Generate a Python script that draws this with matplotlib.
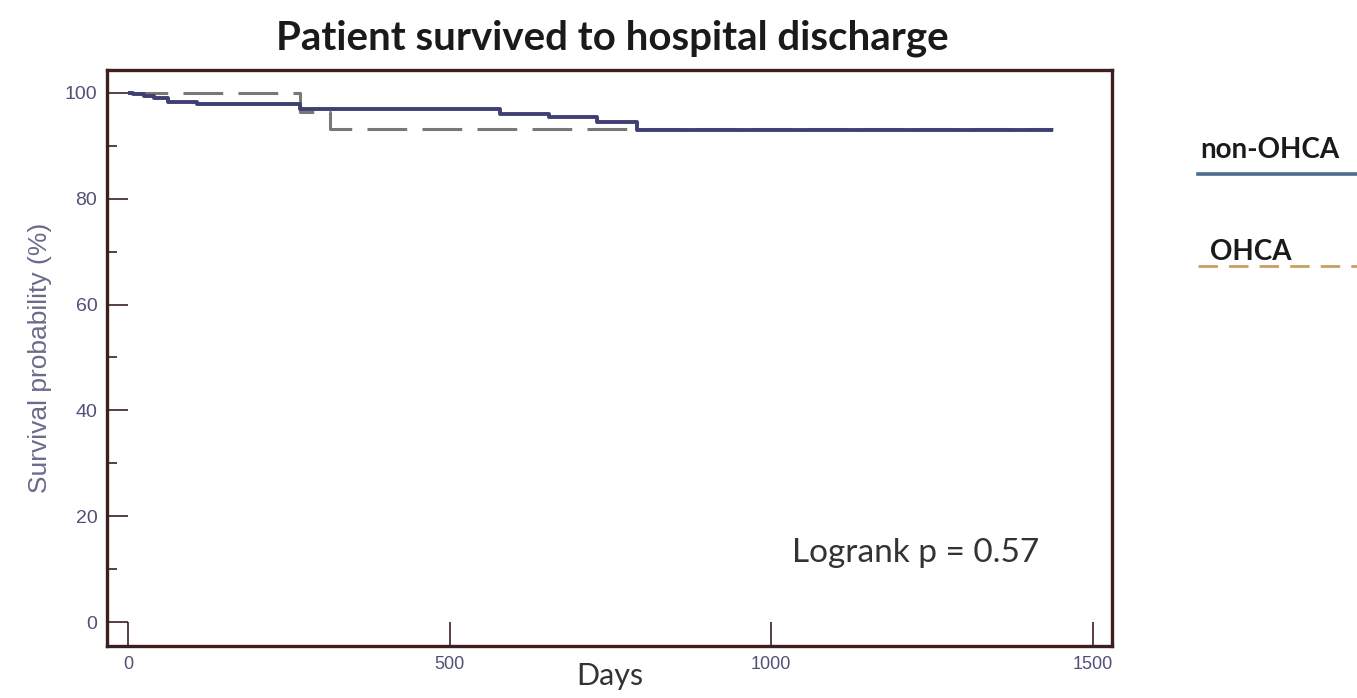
import numpy as np
import matplotlib
matplotlib.use("Agg")
import matplotlib.pyplot as plt
from matplotlib.lines import Line2D

# Kaplan-Meier step data (days, survival %)
non_ohca_days = [0, 8, 25, 40, 62, 108, 267, 578, 655, 729, 791, 1439]
non_ohca_surv = [100, 99.7, 99.3, 99.0, 98.3, 97.9, 96.9, 96.0, 95.4, 94.4, 93.0, 93.0]

ohca_days = [0, 267, 314, 1439]
ohca_surv = [100, 96.4, 93.1, 93.1]

x_ticks = [0, 500, 1000, 1500]
y_ticks = [0, 20, 40, 60, 80, 100]
y_minor = [10, 30, 50, 70, 90]

title = "Patient survived to hospital discharge"
logrank_text = "Logrank p = 0.57"

frame_col = "#3d1f1f"
tick_col = "#505078"
solid_col = "#3f3f75"
dash_col = "#7c7772"
calibri = ["Lato", "DejaVu Sans"]
arial = ["Liberation Sans Narrow", "Liberation Sans", "DejaVu Sans"]

fig = plt.figure(figsize=(13.57, 6.98), dpi=100)
ax = fig.add_axes([107 / 1357, 1 - 646 / 698, (1112 - 107) / 1357, (646 - 70) / 698])

ax.step(ohca_days, ohca_surv, where="post", color=dash_col, lw=2.2,
        dashes=(13, 5), zorder=2)
ax.step(non_ohca_days, non_ohca_surv, where="post", color=solid_col, lw=2.8,
        solid_capstyle="butt", zorder=3)

ax.set_xlim(-32.7, 1530)
ax.set_ylim(-4.5, 104.3)

for s in ax.spines.values():
    s.set_color(frame_col)
    s.set_linewidth(2.4)

ax.set_xticks(x_ticks)
ax.set_yticks(y_ticks)
ax.set_yticks(y_minor, minor=True)
ax.tick_params(axis="x", direction="in", length=17, width=1.2, color=frame_col,
               labelcolor=tick_col, labelsize=13, pad=7)
ax.tick_params(axis="y", which="major", direction="in", length=15, width=1.2,
               color=frame_col, labelcolor=tick_col, labelsize=14, pad=7)
ax.tick_params(axis="y", which="minor", direction="in", length=7, width=1.2,
               color=frame_col)
for lab in ax.get_xticklabels() + ax.get_yticklabels():
    lab.set_family(arial)

ax.set_xlabel("Days", family=calibri, fontsize=22, color="#333333", labelpad=-8)
ax.set_ylabel("Survival probability (%)", family=["Liberation Sans", "DejaVu Sans"],
              fontsize=19, color="#6a6a8c", labelpad=9)

ax.text(0.928, 0.161, logrank_text, transform=ax.transAxes, ha="right", va="center",
        family=calibri, fontsize=24, color="#333333")

fig.text(612 / 1357, 1 - 38 / 698, title, ha="center", va="center",
         family=calibri, fontsize=29, fontweight="bold", color="#1a1a1a")

# legend drawn outside the axes, text above each line sample
fig.text(1200 / 1357, 1 - 150 / 698, "non-OHCA", ha="left", va="center",
         family=calibri, fontsize=20, fontweight="bold", color="#1a1a1a")
fig.add_artist(Line2D([1198 / 1357, 1.0], [1 - 174 / 698] * 2, color="#4c6e8c",
                      lw=2.6, transform=fig.transFigure))
fig.text(1210 / 1357, 1 - 252 / 698, "OHCA", ha="left", va="center",
         family=calibri, fontsize=20, fontweight="bold", color="#1a1a1a")
fig.add_artist(Line2D([1198 / 1357, 1.0], [1 - 266 / 698] * 2, color="#c8a060",
                      lw=2.0, dashes=(7, 4), transform=fig.transFigure))

fig.savefig("out.png", dpi=100, facecolor="white")
